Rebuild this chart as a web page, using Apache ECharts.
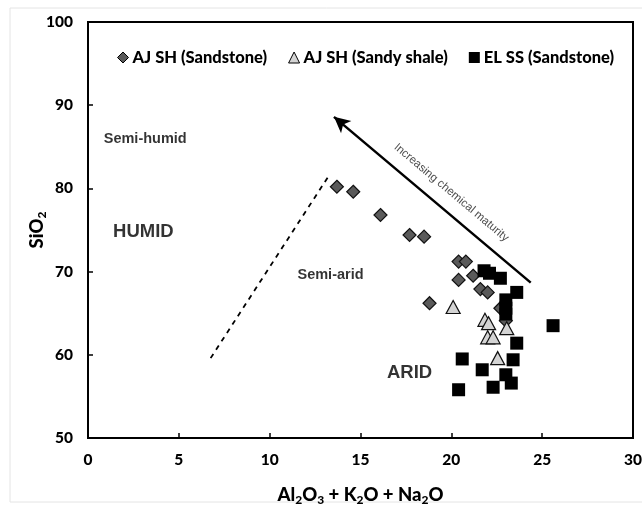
<!DOCTYPE html>
<html>
<head>
<meta charset="utf-8">
<script src="https://cdn.jsdelivr.net/npm/echarts@6/dist/echarts.min.js"></script>
<style>
  html, body { margin: 0; padding: 0; background: #fff; }
  #chart { width: 642px; height: 508px; }
</style>
</head>
<body>
<div id="chart"></div>
<script>
// Al2O3 + K2O + Na2O (wt%) vs SiO2 (wt%)
const ajSandstoneX = [13.7, 14.6, 16.1, 17.7, 18.5, 20.4, 20.8, 20.4, 21.2, 21.6, 22.0, 18.8, 22.7, 23.0];
const ajSandstoneY = [80.2, 79.6, 76.8, 74.4, 74.2, 71.2, 71.2, 69.0, 69.5, 67.9, 67.5, 66.2, 65.6, 64.1];

const ajSandyShaleX = [20.1, 21.85, 22.05, 23.05, 22.0, 22.3, 22.55];
const ajSandyShaleY = [65.75, 64.2, 63.8, 63.2, 62.1, 62.1, 59.6];

const elSandstoneX = [21.8, 22.1, 22.7, 23.6, 23.0, 23.0, 23.0, 23.6, 20.6, 23.4, 21.7, 23.0, 23.3, 22.3, 20.4, 25.6];
const elSandstoneY = [70.1, 69.8, 69.2, 67.5, 66.6, 65.6, 64.9, 61.4, 59.5, 59.4, 58.2, 57.6, 56.6, 56.1, 55.8, 63.5];

const seriesNames = ['AJ SH (Sandstone)', 'AJ SH (Sandy shale)', 'EL SS (Sandstone)'];

const xTicks = { min: 0, max: 30, step: 5 };
const yTicks = { min: 50, max: 100, step: 10 };

// field labels: [text, x, y]
const fieldLabels = [
  ['Semi-humid', 3.15, 85.95],
  ['HUMID', 3.05, 74.75],
  ['Semi-arid', 13.35, 69.6],
  ['ARID', 17.7, 57.8]
];
const maturityLabel = ['Increasing chemical maturity', 20.0, 79.5];

// maturity trend arrow and humid/arid boundary (data units)
const arrowFrom = [24.37, 68.67];
const arrowTo = [13.54, 88.6];
const boundaryFrom = [6.75, 59.6];
const boundaryTo = [13.28, 81.6];

const zip = (xs, ys) => xs.map((x, i) => [x, ys[i]]);

const axisFont = { fontFamily: 'Lato', fontWeight: 900, fontSize: 15.5, color: '#000' };
const titleRich = {
  n: { fontFamily: 'Lato', fontWeight: 900, fontSize: 18.5, color: '#000' },
  s: { fontFamily: 'Lato', fontWeight: 900, fontSize: 12, color: '#000', padding: [9, 0, 0, 0] }
};

const chart = echarts.init(document.getElementById('chart'), null, { renderer: 'canvas' });

const labelStyle = (size, bold) => ({
  show: true,
  position: 'inside',
  formatter: p => p.data.name,
  fontFamily: 'Liberation Sans',
  fontWeight: bold ? 'bold' : 'normal',
  fontSize: size,
  color: '#000'
});

chart.setOption({
  animation: false,
  backgroundColor: '#fff',
  graphic: [{
    type: 'rect',
    shape: { x: 10, y: 8, width: 700, height: 494 },
    style: { fill: 'none', stroke: '#e4e4e4', lineWidth: 1 },
    silent: true,
    z: -10
  }],
  grid: {
    left: 88, right: 9, top: 22, bottom: 70,
    containLabel: false, outerBoundsMode: 'none',
    show: true, borderColor: '#000', borderWidth: 2
  },
  legend: {
    top: 44,
    left: 112,
    itemGap: 21,
    itemWidth: 11,
    itemHeight: 11,
    textStyle: { fontFamily: 'Lato', fontWeight: 900, fontSize: 16.5, color: '#000', padding: [0, 0, 0, -1] },
    data: [
      { name: seriesNames[0], icon: 'diamond', itemStyle: { color: '#5a5a5a', borderColor: '#000', borderWidth: 1 } },
      { name: seriesNames[1], icon: 'triangle', itemStyle: { color: '#d4d4d4', borderColor: '#000', borderWidth: 1 } },
      { name: seriesNames[2], icon: 'rect', itemStyle: { color: '#000' } }
    ]
  },
  xAxis: {
    type: 'value',
    min: xTicks.min, max: xTicks.max, interval: xTicks.step,
    splitLine: { show: false },
    axisLine: { lineStyle: { color: '#000', width: 2 } },
    axisTick: { inside: true, length: 5, lineStyle: { color: '#000', width: 1.5 } },
    axisLabel: Object.assign({ margin: 14 }, axisFont),
    name: '{n|Al}{s|2}{n|O}{s|3}{n| + K}{s|2}{n|O + Na}{s|2}{n|O}',
    nameLocation: 'middle',
    nameGap: 47,
    nameMoveOverlap: false,
    nameTextStyle: { rich: titleRich }
  },
  yAxis: {
    type: 'value',
    min: yTicks.min, max: yTicks.max, interval: yTicks.step,
    splitLine: { show: false },
    axisLine: { lineStyle: { color: '#000', width: 2 } },
    axisTick: { inside: true, length: 5, lineStyle: { color: '#000', width: 1.5 } },
    axisLabel: Object.assign({ margin: 15 }, axisFont),
    name: '{n|SiO}{s|2}',
    nameLocation: 'middle',
    nameRotate: 90,
    nameGap: 40,
    nameMoveOverlap: false,
    nameTextStyle: { rich: titleRich }
  },
  series: [
    {
      name: seriesNames[0],
      type: 'scatter',
      symbol: 'diamond',
      symbolSize: 13,
      itemStyle: { color: '#5a5a5a', borderColor: '#111', borderWidth: 1.2, opacity: 1 },
      data: zip(ajSandstoneX, ajSandstoneY),
      z: 3
    },
    {
      name: seriesNames[1],
      type: 'scatter',
      symbol: 'triangle',
      symbolSize: [14, 13],
      itemStyle: { color: '#d4d4d4', borderColor: '#111', borderWidth: 1.2, opacity: 1 },
      data: zip(ajSandyShaleX, ajSandyShaleY),
      z: 4
    },
    {
      name: seriesNames[2],
      type: 'scatter',
      symbol: 'rect',
      symbolSize: 13,
      itemStyle: { color: '#000', opacity: 1 },
      data: zip(elSandstoneX, elSandstoneY),
      z: 5
    },
    {
      // guide lines and field labels
      name: 'annotations',
      type: 'scatter',
      symbolSize: 0,
      silent: true,
      data: [
        { name: fieldLabels[0][0], value: [fieldLabels[0][1], fieldLabels[0][2]], label: labelStyle(14.5, true) },
        { name: fieldLabels[1][0], value: [fieldLabels[1][1], fieldLabels[1][2]], label: labelStyle(18.5, true) },
        { name: fieldLabels[2][0], value: [fieldLabels[2][1], fieldLabels[2][2]], label: labelStyle(14.5, true) },
        { name: fieldLabels[3][0], value: [fieldLabels[3][1], fieldLabels[3][2]], label: labelStyle(18.5, true) },
        {
          name: maturityLabel[0], value: [maturityLabel[1], maturityLabel[2]],
          label: Object.assign(labelStyle(11.5, false), { rotate: -40, color: '#222' })
        }
      ],
      markLine: {
        silent: true,
        animation: false,
        label: { show: false },
        data: [
          [
            { coord: arrowFrom, symbol: 'none', lineStyle: { color: '#000', width: 2.5, type: 'solid' } },
            { coord: arrowTo, symbol: 'arrow', symbolSize: [12, 16] }
          ],
          [
            { coord: boundaryFrom, symbol: 'none', lineStyle: { color: '#000', width: 1.8, type: [5, 5] } },
            { coord: boundaryTo, symbol: 'none' }
          ]
        ]
      },
      z: 2
    }
  ]
});
</script>
</body>
</html>
